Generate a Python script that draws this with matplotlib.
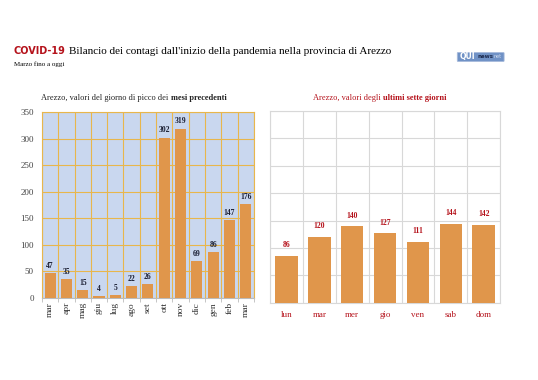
import numpy as np
import matplotlib.pyplot as plt
from matplotlib.patches import FancyBboxPatch

mesi = ["mar", "apr", "mag", "giu", "lug", "ago", "set", "ott", "nov", "dic", "gen", "feb", "mar"]
picchi = [47, 35, 15, 4, 5, 22, 26, 302, 319, 69, 86, 147, 176]

giorni = ["lun", "mar", "mer", "gio", "ven", "sab", "dom"]
ultimi = [86, 120, 140, 127, 111, 144, 142]

serif = "Liberation Serif"
arancio = "#e0964b"
rosso = "#b5121b"
griglia_l = "#e8b64c"
sfondo_l = "#c9d7ef"
griglia_r = "#d8d8d8"

fig = plt.figure(figsize=(5.38, 3.80), dpi=100)

# titolo
t_covid = fig.text(0.026, 0.858, "COVID-19", fontsize=7, fontweight="bold", color=rosso,
                   family="DejaVu Sans", va="baseline")
fig.add_artist(plt.Annotation("Bilancio dei contagi dall'inizio della pandemia nella provincia di Arezzo",
                              xy=(1, 0), xycoords=t_covid, xytext=(2.5, 0),
                              textcoords="offset points", fontsize=8.0, family=serif,
                              va="bottom"))
fig.text(0.026, 0.826, "Marzo fino a oggi", fontsize=5, family=serif, va="baseline")

# logo
logo = FancyBboxPatch((0.852, 0.840), 0.083, 0.020, boxstyle="round,pad=0.002",
                      transform=fig.transFigure, fc="#7092c6", ec="#a8bbdc", lw=0.6)
fig.patches.append(logo)
t_qui = fig.text(0.855, 0.850, "QUI", fontsize=5.5, fontweight="bold", color="white",
                 family="DejaVu Sans", va="center")
t_news = fig.add_artist(plt.Annotation("news", xy=(1, 0.5), xycoords=t_qui, xytext=(1, 0),
                                       textcoords="offset points", fontsize=4,
                                       fontweight="bold", color="#1d2b4f",
                                       family="DejaVu Sans", va="center"))
fig.add_artist(plt.Annotation("net", xy=(1, 0.5), xycoords=t_news, xytext=(0.5, 0),
                              textcoords="offset points", fontsize=3.5, color="#d0dbee",
                              family="DejaVu Sans", va="center"))

# grafico sinistro
ax1 = fig.add_axes([0.078, 0.216, 0.394, 0.489])
x1 = np.arange(len(mesi))
ax1.set_facecolor(sfondo_l)
ax1.bar(x1, picchi, width=0.68, color=arancio, zorder=3)
for xi, v in zip(x1, picchi):
    ax1.text(xi, v + 6, str(v), ha="center", va="bottom", fontsize=5.5,
             fontweight="bold", color="#1b1f33", family=serif)
ax1.set_xlim(-0.5, len(mesi) - 0.5)
ax1.set_ylim(0, 350)
ax1.set_yticks(np.arange(0, 351, 50))
ax1.set_xticks(x1)
ax1.set_xticklabels(mesi, rotation=90, fontsize=6.8, family=serif, color="#333333")
ax1.set_xticks(np.arange(-0.5, len(mesi), 1), minor=True)
ax1.grid(True, which="minor", axis="x", color=griglia_l, lw=0.8, zorder=0)
ax1.grid(True, which="major", axis="y", color=griglia_l, lw=0.8, zorder=0)
ax1.tick_params(axis="x", which="major", length=0, pad=3)
ax1.tick_params(axis="x", which="minor", length=3, color="#bbbbbb")
ax1.tick_params(axis="y", length=0, labelsize=6.5, labelcolor="#444444", pad=6)
for lab in ax1.get_yticklabels():
    lab.set_family(serif)
for s in ax1.spines.values():
    s.set_color(griglia_l)
    s.set_linewidth(0.8)
ax1.spines["bottom"].set_color("#bbbbbb")

fig.text(0.317, 0.737, "Arezzo, valori del giorno di picco dei ", fontsize=6.0,
         family=serif, ha="right", va="baseline", color="#222222")
fig.text(0.317, 0.737, "mesi precedenti", fontsize=6.0, fontweight="bold",
         family=serif, ha="left", va="baseline", color="#222222")

# grafico destro
ax2 = fig.add_axes([0.502, 0.203, 0.4275, 0.505])
x2 = np.arange(len(giorni))
ax2.bar(x2, ultimi, width=0.68, color=arancio, zorder=3)
for xi, v in zip(x2, ultimi):
    ax2.text(xi, v + 12, str(v), ha="center", va="bottom", fontsize=5.5,
             fontweight="bold", color=rosso, family=serif)
ax2.set_xlim(-0.5, len(giorni) - 0.5)
ax2.set_ylim(0, 350)
ax2.set_yticks(np.arange(0, 351, 50))
ax2.set_yticklabels([])
ax2.set_xticks(x2)
ax2.set_xticklabels(giorni, fontsize=6.5, family=serif, color=rosso)
ax2.set_xticks(np.arange(-0.5, len(giorni), 1), minor=True)
ax2.grid(True, which="minor", axis="x", color=griglia_r, lw=0.8, zorder=0)
ax2.grid(True, which="major", axis="y", color=griglia_r, lw=0.8, zorder=0)
ax2.tick_params(axis="both", which="both", length=0)
ax2.tick_params(axis="x", pad=6)
for s in ax2.spines.values():
    s.set_color(griglia_r)
    s.set_linewidth(0.8)

fig.text(0.712, 0.737, "Arezzo, valori degli ", fontsize=6.0, family=serif,
         ha="right", va="baseline", color=rosso)
fig.text(0.712, 0.737, "ultimi sette giorni", fontsize=6.0, fontweight="bold",
         family=serif, ha="left", va="baseline", color=rosso)

fig.savefig("out.png", dpi=100)
